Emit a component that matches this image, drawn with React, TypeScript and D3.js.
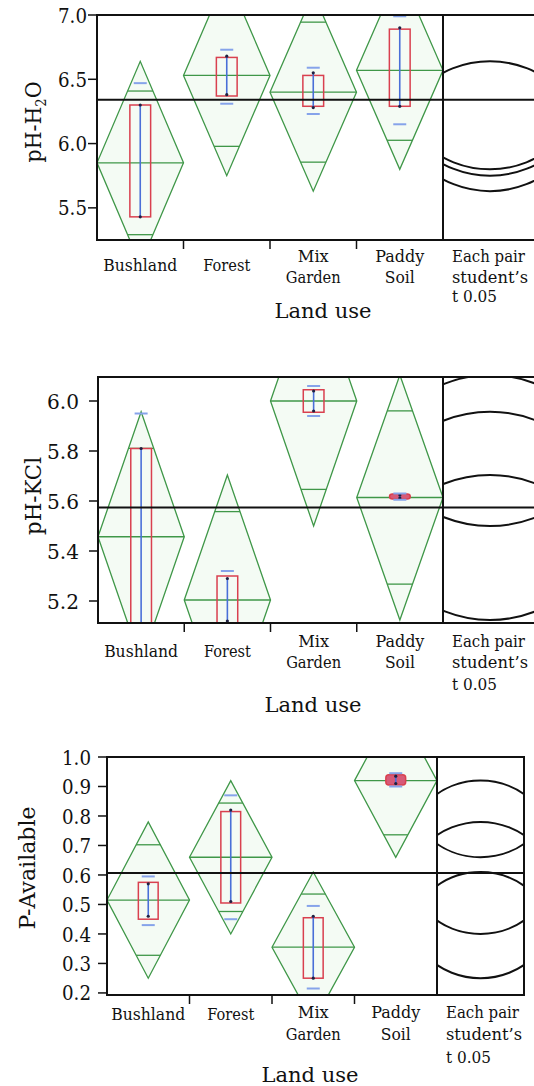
import React from "react";
import * as d3 from "d3";

const categories = ["Bushland", "Forest", "Mix Garden", "Paddy Soil"];
const categoryLines = [["Bushland"], ["Forest"], ["Mix", "Garden"], ["Paddy", "Soil"]];
const compLines = ["Each pair", "student\u2019s", "t 0.05"];

// pH-H2O
const h2oMean = [5.85, 6.53, 6.4, 6.57];
const h2oCi = [0.79, 0.78, 0.77, 0.77];
const h2oBoxLo = [5.43, 6.37, 6.29, 6.29];
const h2oBoxHi = [6.3, 6.67, 6.53, 6.89];
const h2oWhiskLo = [5.43, 6.38, 6.28, 6.29];
const h2oWhiskHi = [6.3, 6.68, 6.55, 6.9];
const h2oSdLo = [5.23, 6.31, 6.23, 6.15];
const h2oSdHi = [6.47, 6.73, 6.59, 6.99];
const h2oGrand = 6.34;
const h2oTicks = [5.5, 6.0, 6.5, 7.0];

// pH-KCl
const kclMean = [5.457, 5.204, 6.0, 5.614];
const kclCi = [0.5, 0.5, 0.5, 0.49];
const kclBoxLo = [5.1, 5.11, 5.955, 5.608];
const kclBoxHi = [5.81, 5.3, 6.045, 5.628];
const kclWhiskLo = [5.1, 5.12, 5.96, 5.612];
const kclWhiskHi = [5.81, 5.29, 6.04, 5.624];
const kclSdLo = [4.96, 5.09, 5.94, 5.605];
const kclSdHi = [5.95, 5.32, 6.06, 5.63];
const kclGrand = 5.574;
const kclTicks = [5.2, 5.4, 5.6, 5.8, 6.0];

// P-Available
const pMean = [0.515, 0.66, 0.355, 0.92];
const pCi = [0.265, 0.26, 0.255, 0.26];
const pBoxLo = [0.45, 0.505, 0.25, 0.905];
const pBoxHi = [0.575, 0.815, 0.455, 0.94];
const pWhiskLo = [0.46, 0.51, 0.25, 0.91];
const pWhiskHi = [0.57, 0.82, 0.46, 0.935];
const pSdLo = [0.43, 0.45, 0.215, 0.9];
const pSdHi = [0.595, 0.87, 0.495, 0.945];
const pGrand = 0.607;
const pTicks = [0.2, 0.3, 0.4, 0.5, 0.6, 0.7, 0.8, 0.9, 1.0];

const GREEN = "#3f9748";
const RED = "#d9404f";
const BLUE = "#4a6fd8";
const LIGHTBLUE = "#86a3ea";
const serif = "DejaVu Serif, serif";

// printed widths of the labels (the original type is narrow)
const labelWidth: Record<string, number> = {
  Bushland: 74, Forest: 47, Mix: 31, Garden: 55, Paddy: 49, Soil: 30,
  "Each pair": 73, "student\u2019s": 76, "t 0.05": 45,
};

const panels = [
  {
    id: "h2o", label: ["pH-H", "2", "O"], mean: h2oMean, ci: h2oCi, boxLo: h2oBoxLo, boxHi: h2oBoxHi,
    whiskLo: h2oWhiskLo, whiskHi: h2oWhiskHi, sdLo: h2oSdLo, sdHi: h2oSdHi, grand: h2oGrand, ticks: h2oTicks,
    domain: [5.25, 7.0], left: 97, top: 15, bottom: 240, sep: 443, right: 537, tickRight: 87, tickW: 29,
    labelX: 33, labelY: 122, labelW: 81, single: 271, double: [262, 283], comp: [262, 283, 302], landX: 323, landY: 318,
  },
  {
    id: "kcl", label: ["pH-KCl"], mean: kclMean, ci: kclCi, boxLo: kclBoxLo, boxHi: kclBoxHi,
    whiskLo: kclWhiskLo, whiskHi: kclWhiskHi, sdLo: kclSdLo, sdHi: kclSdHi, grand: kclGrand, ticks: kclTicks,
    domain: [5.112, 6.096], left: 98, top: 377, bottom: 623, sep: 443, right: 537, tickRight: 79, tickW: 32,
    labelX: 33, labelY: 496, labelW: 78, single: 657, double: [647, 668], comp: [647, 668, 690], landX: 313, landY: 712,
  },
  {
    id: "pav", label: ["P-Available"], mean: pMean, ci: pCi, boxLo: pBoxLo, boxHi: pBoxHi,
    whiskLo: pWhiskLo, whiskHi: pWhiskHi, sdLo: pSdLo, sdHi: pSdHi, grand: pGrand, ticks: pTicks,
    domain: [0.193, 1.0], left: 107, top: 757, bottom: 995, sep: 437, right: 524, tickRight: 91, tickW: 29,
    labelX: 27, labelY: 868, labelW: 123, single: 1020, double: [1018, 1040], comp: [1018, 1040, 1063], landX: 310, landY: 1082,
  },
];

const txt = { fontFamily: serif, fill: "#111" };

const Panel = ({ p }: { p: any }) => {
  const y = d3.scaleLinear().domain(p.domain).range([p.bottom, p.top]);
  const x = d3.scaleBand().domain(categories).range([p.left, p.sep]);
  const bw = x.bandwidth();
  const boxW = bw * 0.24;
  const sdW = 13;
  const cx = (p.sep + p.right) / 2;
  const line = d3.line();

  return (
    <g>
      <defs>
        <clipPath id={"plot-" + p.id}>
          <rect x={p.left} y={p.top} width={p.sep - p.left} height={p.bottom - p.top} />
        </clipPath>
        <clipPath id={"comp-" + p.id}>
          <rect x={p.sep} y={p.top} width={p.right - p.sep} height={p.bottom - p.top} />
        </clipPath>
      </defs>

      <g clipPath={`url(#plot-${p.id})`}>
        {categories.map((c, i) => {
          const x0 = x(c)!;
          const x1 = x0 + bw;
          const xc = x0 + bw / 2;
          const m = p.mean[i];
          const ci = p.ci[i];
          const k = ci / Math.SQRT2;
          const ow = (bw / 2) * (1 - 1 / Math.SQRT2);
          const dia = line([[x0, y(m)], [xc, y(m + ci)], [x1, y(m)], [xc, y(m - ci)]]) + "Z";
          const small = y(p.boxLo[i]) - y(p.boxHi[i]) < 12;
          return (
            <g key={c}>
              <path d={dia} fill="#f4fbf4" stroke={GREEN} strokeWidth={1.3} />
              <line x1={x0} x2={x1} y1={y(m)} y2={y(m)} stroke={GREEN} strokeWidth={1.3} />
              <line x1={xc - ow} x2={xc + ow} y1={y(m + k)} y2={y(m + k)} stroke={GREEN} strokeWidth={1.3} />
              <line x1={xc - ow} x2={xc + ow} y1={y(m - k)} y2={y(m - k)} stroke={GREEN} strokeWidth={1.3} />
              <rect x={xc - boxW / 2} y={y(p.boxHi[i])} width={boxW}
                height={Math.max(1, y(p.boxLo[i]) - y(p.boxHi[i]))}
                fill={small ? "#d65a78" : "none"} stroke={RED} strokeWidth={1.5} rx={small ? 3 : 0} />
              <line x1={xc} x2={xc} y1={y(p.whiskHi[i])} y2={y(p.whiskLo[i])} stroke={BLUE} strokeWidth={1.6} />
              <circle cx={xc} cy={y(p.whiskHi[i])} r={1.6} fill="#202040" />
              <circle cx={xc} cy={y(p.whiskLo[i])} r={1.6} fill="#202040" />
              <line x1={xc - sdW / 2} x2={xc + sdW / 2} y1={y(p.sdHi[i])} y2={y(p.sdHi[i])} stroke={LIGHTBLUE} strokeWidth={2} />
              <line x1={xc - sdW / 2} x2={xc + sdW / 2} y1={y(p.sdLo[i])} y2={y(p.sdLo[i])} stroke={LIGHTBLUE} strokeWidth={2} />
            </g>
          );
        })}
      </g>

      <g clipPath={`url(#comp-${p.id})`}>
        {categories.map((c, i) => (
          <circle key={c} cx={cx} cy={y(p.mean[i])} r={y(p.mean[i] - p.ci[i]) - y(p.mean[i])}
            fill="none" stroke="#111" strokeWidth={2} />
        ))}
      </g>

      <line x1={p.left} x2={p.right} y1={y(p.grand)} y2={y(p.grand)} stroke="#111" strokeWidth={2} />
      <rect x={p.left} y={p.top} width={p.right - p.left} height={p.bottom - p.top} fill="none" stroke="#111" strokeWidth={2} />
      <line x1={p.sep} x2={p.sep} y1={p.top} y2={p.bottom} stroke="#111" strokeWidth={2} />

      {p.ticks.map((t: number) => (
        <g key={t}>
          <line x1={p.left - 9} x2={p.left} y1={y(t)} y2={y(t)} stroke="#111" strokeWidth={1.5} />
          <text x={p.tickRight} y={y(t)} dy="0.36em" textAnchor="end" textLength={p.tickW}
            lengthAdjust="spacingAndGlyphs" style={{ ...txt, fontSize: 21 }}>
            {d3.format(".1f")(t)}
          </text>
        </g>
      ))}

      {categories.slice(1).map((c) => (
        <line key={c} x1={x(c)!} x2={x(c)!} y1={p.bottom} y2={p.bottom + 9} stroke="#111" strokeWidth={1.5} />
      ))}

      {categoryLines.map((lines, i) => {
        const xc = x(categories[i])! + bw / 2;
        const ys = lines.length === 1 ? [p.single] : p.double;
        return lines.map((t, j) => (
          <text key={t} x={xc} y={ys[j]} textAnchor="middle" textLength={labelWidth[t]}
            lengthAdjust="spacingAndGlyphs" style={{ ...txt, fontSize: 16.5 }}>{t}</text>
        ));
      })}
      {compLines.map((t, j) => (
        <text key={t} x={p.sep + 9} y={p.comp[j]} textLength={labelWidth[t]}
          lengthAdjust="spacingAndGlyphs" style={{ ...txt, fontSize: 16.5 }}>{t}</text>
      ))}

      <text x={p.landX} y={p.landY} textAnchor="middle" textLength={97} lengthAdjust="spacingAndGlyphs"
        style={{ ...txt, fontSize: 21 }}>
        Land use
      </text>

      <text transform={`translate(${p.labelX},${p.labelY}) rotate(-90)`} x={-p.labelW / 2} dy="0.35em"
        textLength={p.labelW} lengthAdjust="spacingAndGlyphs" style={{ ...txt, fontSize: 22 }}>
        {p.label.length === 1 ? p.label[0] : (
          <>
            {p.label[0]}
            <tspan fontSize={14} dy="5">{p.label[1]}</tspan>
            <tspan dy="-5">{p.label[2]}</tspan>
          </>
        )}
      </text>
    </g>
  );
};

export default function App() {
  return (
    <svg width={534} height={1086} style={{ position: "absolute", left: 0, top: 0, background: "#fff" }}>
      <rect width={534} height={1086} fill="#fff" />
      {panels.map((p) => (
        <Panel key={p.id} p={p} />
      ))}
    </svg>
  );
}
